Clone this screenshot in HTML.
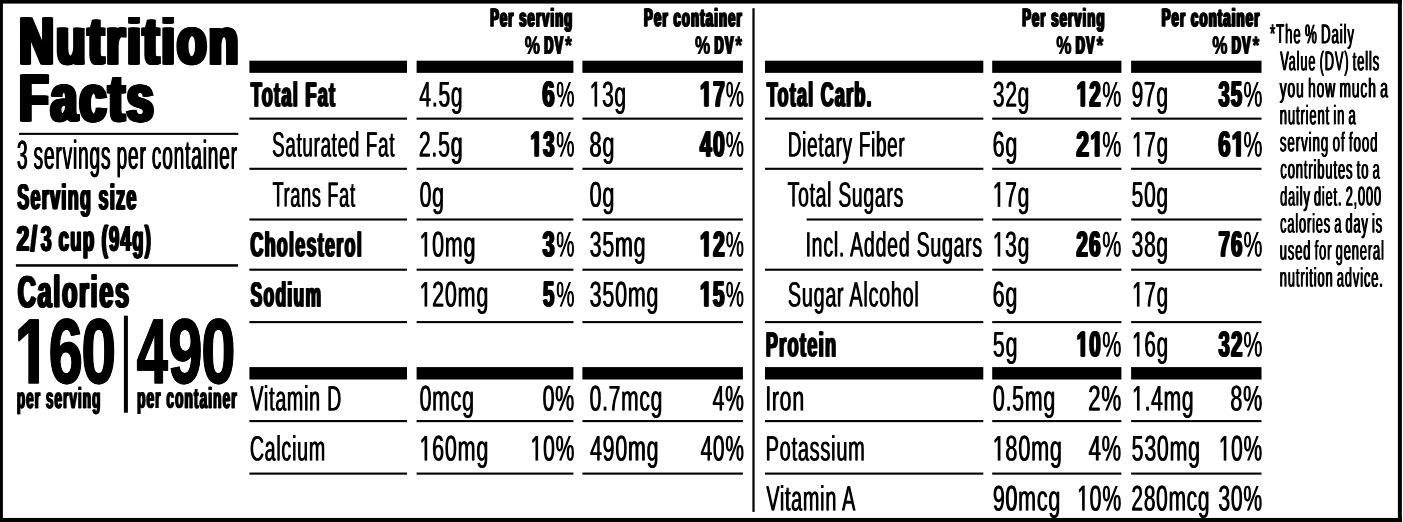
<!DOCTYPE html>
<html><head><meta charset="utf-8"><title>Nutrition Facts</title>
<style>
html,body{margin:0;padding:0;background:#fff;}
body{width:1403px;height:522px;overflow:hidden;}
svg{display:block;will-change:transform;}
text{font-family:"Liberation Sans",sans-serif;fill:#000;stroke-linejoin:miter;text-rendering:geometricPrecision;}
</style></head><body>
<svg width="1403" height="522" viewBox="0 0 1403 522">
<g fill="#000">
<rect x="0.00" y="0.00" width="1401.85" height="3.60"/>
<rect x="0.00" y="0.00" width="2.90" height="522.00"/>
<rect x="1397.90" y="0.00" width="3.95" height="522.00"/>
<rect x="0.00" y="517.95" width="1401.85" height="4.05"/>
<rect x="249.40" y="60.70" width="157.60" height="12.15"/>
<rect x="249.40" y="367.10" width="157.60" height="12.40"/>
<rect x="416.60" y="60.70" width="156.80" height="12.15"/>
<rect x="416.60" y="367.10" width="156.80" height="12.40"/>
<rect x="582.40" y="60.70" width="160.50" height="12.15"/>
<rect x="582.40" y="367.10" width="160.50" height="12.40"/>
<rect x="765.00" y="60.70" width="218.30" height="12.15"/>
<rect x="765.00" y="367.10" width="218.30" height="12.40"/>
<rect x="992.20" y="60.70" width="129.20" height="12.15"/>
<rect x="992.20" y="367.10" width="129.20" height="12.40"/>
<rect x="1131.10" y="60.70" width="130.40" height="12.15"/>
<rect x="1131.10" y="367.10" width="130.40" height="12.40"/>
<rect x="249.40" y="117.60" width="157.60" height="2.10"/>
<rect x="249.40" y="167.75" width="157.60" height="2.10"/>
<rect x="249.40" y="218.45" width="157.60" height="2.10"/>
<rect x="249.40" y="268.65" width="157.60" height="2.10"/>
<rect x="249.40" y="321.05" width="157.60" height="2.10"/>
<rect x="249.40" y="420.05" width="157.60" height="2.10"/>
<rect x="249.40" y="472.55" width="157.60" height="2.10"/>
<rect x="416.60" y="117.60" width="156.80" height="2.10"/>
<rect x="416.60" y="167.75" width="156.80" height="2.10"/>
<rect x="416.60" y="218.45" width="156.80" height="2.10"/>
<rect x="416.60" y="268.65" width="156.80" height="2.10"/>
<rect x="416.60" y="321.05" width="156.80" height="2.10"/>
<rect x="416.60" y="420.05" width="156.80" height="2.10"/>
<rect x="416.60" y="472.55" width="156.80" height="2.10"/>
<rect x="582.40" y="117.60" width="160.50" height="2.10"/>
<rect x="582.40" y="167.75" width="160.50" height="2.10"/>
<rect x="582.40" y="218.45" width="160.50" height="2.10"/>
<rect x="582.40" y="268.65" width="160.50" height="2.10"/>
<rect x="582.40" y="321.05" width="160.50" height="2.10"/>
<rect x="582.40" y="420.05" width="160.50" height="2.10"/>
<rect x="582.40" y="472.55" width="160.50" height="2.10"/>
<rect x="765.00" y="117.60" width="218.30" height="2.10"/>
<rect x="765.00" y="167.75" width="218.30" height="2.10"/>
<rect x="806.60" y="218.45" width="176.70" height="2.10"/>
<rect x="765.00" y="268.65" width="218.30" height="2.10"/>
<rect x="765.00" y="321.05" width="218.30" height="2.10"/>
<rect x="765.00" y="420.05" width="218.30" height="2.10"/>
<rect x="765.00" y="472.55" width="218.30" height="2.10"/>
<rect x="992.20" y="117.60" width="129.20" height="2.10"/>
<rect x="992.20" y="167.75" width="129.20" height="2.10"/>
<rect x="992.20" y="218.45" width="129.20" height="2.10"/>
<rect x="992.20" y="268.65" width="129.20" height="2.10"/>
<rect x="992.20" y="321.05" width="129.20" height="2.10"/>
<rect x="992.20" y="420.05" width="129.20" height="2.10"/>
<rect x="992.20" y="472.55" width="129.20" height="2.10"/>
<rect x="1131.10" y="117.60" width="130.40" height="2.10"/>
<rect x="1131.10" y="167.75" width="130.40" height="2.10"/>
<rect x="1131.10" y="218.45" width="130.40" height="2.10"/>
<rect x="1131.10" y="268.65" width="130.40" height="2.10"/>
<rect x="1131.10" y="321.05" width="130.40" height="2.10"/>
<rect x="1131.10" y="420.05" width="130.40" height="2.10"/>
<rect x="1131.10" y="472.55" width="130.40" height="2.10"/>
<rect x="752.40" y="8.20" width="2.20" height="503.70"/>
<rect x="19.10" y="132.80" width="219.20" height="2.10"/>
<rect x="15.90" y="264.20" width="222.10" height="2.50"/>
<rect x="123.90" y="315.70" width="4.00" height="97.00"/>
<text transform="translate(249.92,106.21) skewY(0.06) scale(0.5282,1.0000)" font-size="34.4" font-weight="700" stroke="#000" stroke-width="0.39" letter-spacing="2.382">Total Fat</text>
<text transform="translate(250.71,106.21) skewY(0.06) scale(0.5282,1.0000)" font-size="34.4" font-weight="700" stroke="#000" stroke-width="0.39" letter-spacing="2.382">Total Fat</text>
<text transform="translate(251.49,106.21) skewY(0.06) scale(0.5282,1.0000)" font-size="34.4" font-weight="700" stroke="#000" stroke-width="0.39" letter-spacing="2.382">Total Fat</text>
<text transform="translate(419.08,106.43) skewY(0.06) scale(0.5879,1.0000)" font-size="35.7" font-weight="400" letter-spacing="1.301">4.5g</text>
<text transform="translate(419.85,106.43) skewY(0.06) scale(0.5879,1.0000)" font-size="35.7" font-weight="400" letter-spacing="1.301">4.5g</text>
<text transform="translate(541.56,106.24) skewY(0.06) scale(0.6132,1.0000)" font-size="35.7" font-weight="700" stroke="#000" stroke-width="0.41">6</text>
<text transform="translate(542.10,106.24) skewY(0.06) scale(0.6132,1.0000)" font-size="35.7" font-weight="700" stroke="#000" stroke-width="0.41">6</text>
<text transform="translate(542.65,106.24) skewY(0.06) scale(0.6132,1.0000)" font-size="35.7" font-weight="700" stroke="#000" stroke-width="0.41">6</text>
<text transform="translate(543.19,106.24) skewY(0.06) scale(0.6132,1.0000)" font-size="35.7" font-weight="700" stroke="#000" stroke-width="0.41">6</text>
<text transform="translate(555.98,106.44) skewY(0.06) scale(0.5739,1.0000)" font-size="35.7" font-weight="400">%</text>
<text transform="translate(556.38,106.44) skewY(0.06) scale(0.5739,1.0000)" font-size="35.7" font-weight="400">%</text>
<path transform="translate(589.29,106.43) scale(0.01019,-0.01743)" d="M515 0V1237L197 1010V1180L530 1409H696V0Z"/>
<path transform="translate(590.06,106.43) scale(0.01019,-0.01743)" d="M515 0V1237L197 1010V1180L530 1409H696V0Z"/>
<text transform="translate(601.66,106.43) skewY(0.06) scale(0.5845,1.0000)" font-size="35.7" font-weight="400" letter-spacing="1.309">3g</text>
<text transform="translate(602.43,106.43) skewY(0.06) scale(0.5845,1.0000)" font-size="35.7" font-weight="400" letter-spacing="1.309">3g</text>
<path transform="translate(699.29,106.23) scale(0.01024,-0.01743)" d="M478 0V1170L140 959V1180L493 1409H759V0Z" stroke="#000" stroke-width="0.41" vector-effect="non-scaling-stroke"/>
<path transform="translate(699.83,106.23) scale(0.01024,-0.01743)" d="M478 0V1170L140 959V1180L493 1409H759V0Z" stroke="#000" stroke-width="0.41" vector-effect="non-scaling-stroke"/>
<path transform="translate(700.37,106.23) scale(0.01024,-0.01743)" d="M478 0V1170L140 959V1180L493 1409H759V0Z" stroke="#000" stroke-width="0.41" vector-effect="non-scaling-stroke"/>
<path transform="translate(700.92,106.23) scale(0.01024,-0.01743)" d="M478 0V1170L140 959V1180L493 1409H759V0Z" stroke="#000" stroke-width="0.41" vector-effect="non-scaling-stroke"/>
<text transform="translate(712.25,106.23) skewY(0.06) scale(0.5872,1.0000)" font-size="35.7" font-weight="700" stroke="#000" stroke-width="0.41">7</text>
<text transform="translate(712.80,106.23) skewY(0.06) scale(0.5872,1.0000)" font-size="35.7" font-weight="700" stroke="#000" stroke-width="0.41">7</text>
<text transform="translate(713.34,106.23) skewY(0.06) scale(0.5872,1.0000)" font-size="35.7" font-weight="700" stroke="#000" stroke-width="0.41">7</text>
<text transform="translate(713.88,106.23) skewY(0.06) scale(0.5872,1.0000)" font-size="35.7" font-weight="700" stroke="#000" stroke-width="0.41">7</text>
<text transform="translate(725.58,106.44) skewY(0.06) scale(0.5739,1.0000)" font-size="35.7" font-weight="400">%</text>
<text transform="translate(725.98,106.44) skewY(0.06) scale(0.5739,1.0000)" font-size="35.7" font-weight="400">%</text>
<text transform="translate(271.76,156.49) skewY(0.06) scale(0.5313,1.0000)" font-size="35.2" font-weight="400" letter-spacing="1.420">Saturated Fat</text>
<text transform="translate(272.51,156.49) skewY(0.06) scale(0.5313,1.0000)" font-size="35.2" font-weight="400" letter-spacing="1.420">Saturated Fat</text>
<text transform="translate(418.43,156.53) skewY(0.06) scale(0.5976,1.0000)" font-size="35.7" font-weight="400" letter-spacing="1.280">2.5g</text>
<text transform="translate(419.20,156.53) skewY(0.06) scale(0.5976,1.0000)" font-size="35.7" font-weight="400" letter-spacing="1.280">2.5g</text>
<path transform="translate(529.72,156.33) scale(0.00995,-0.01743)" d="M478 0V1170L140 959V1180L493 1409H759V0Z" stroke="#000" stroke-width="0.41" vector-effect="non-scaling-stroke"/>
<path transform="translate(530.27,156.33) scale(0.00995,-0.01743)" d="M478 0V1170L140 959V1180L493 1409H759V0Z" stroke="#000" stroke-width="0.41" vector-effect="non-scaling-stroke"/>
<path transform="translate(530.81,156.33) scale(0.00995,-0.01743)" d="M478 0V1170L140 959V1180L493 1409H759V0Z" stroke="#000" stroke-width="0.41" vector-effect="non-scaling-stroke"/>
<path transform="translate(531.36,156.33) scale(0.00995,-0.01743)" d="M478 0V1170L140 959V1180L493 1409H759V0Z" stroke="#000" stroke-width="0.41" vector-effect="non-scaling-stroke"/>
<text transform="translate(542.36,156.33) skewY(0.06) scale(0.5706,1.0000)" font-size="35.7" font-weight="700" stroke="#000" stroke-width="0.41">3</text>
<text transform="translate(542.90,156.33) skewY(0.06) scale(0.5706,1.0000)" font-size="35.7" font-weight="700" stroke="#000" stroke-width="0.41">3</text>
<text transform="translate(543.45,156.33) skewY(0.06) scale(0.5706,1.0000)" font-size="35.7" font-weight="700" stroke="#000" stroke-width="0.41">3</text>
<text transform="translate(543.99,156.33) skewY(0.06) scale(0.5706,1.0000)" font-size="35.7" font-weight="700" stroke="#000" stroke-width="0.41">3</text>
<text transform="translate(555.98,156.54) skewY(0.06) scale(0.5739,1.0000)" font-size="35.7" font-weight="400">%</text>
<text transform="translate(556.38,156.54) skewY(0.06) scale(0.5739,1.0000)" font-size="35.7" font-weight="400">%</text>
<text transform="translate(589.12,156.54) skewY(0.06) scale(0.6070,1.0000)" font-size="35.7" font-weight="400" letter-spacing="1.260">8g</text>
<text transform="translate(589.89,156.54) skewY(0.06) scale(0.6070,1.0000)" font-size="35.7" font-weight="400" letter-spacing="1.260">8g</text>
<text transform="translate(699.10,156.33) skewY(0.06) scale(0.5926,1.0000)" font-size="35.7" font-weight="700" stroke="#000" stroke-width="0.41" letter-spacing="2.203">40</text>
<text transform="translate(699.65,156.33) skewY(0.06) scale(0.5926,1.0000)" font-size="35.7" font-weight="700" stroke="#000" stroke-width="0.41" letter-spacing="2.203">40</text>
<text transform="translate(700.19,156.33) skewY(0.06) scale(0.5926,1.0000)" font-size="35.7" font-weight="700" stroke="#000" stroke-width="0.41" letter-spacing="2.203">40</text>
<text transform="translate(700.74,156.33) skewY(0.06) scale(0.5926,1.0000)" font-size="35.7" font-weight="700" stroke="#000" stroke-width="0.41" letter-spacing="2.203">40</text>
<text transform="translate(725.58,156.54) skewY(0.06) scale(0.5739,1.0000)" font-size="35.7" font-weight="400">%</text>
<text transform="translate(725.98,156.54) skewY(0.06) scale(0.5739,1.0000)" font-size="35.7" font-weight="400">%</text>
<text transform="translate(272.24,206.61) skewY(0.06) scale(0.5116,1.0000)" font-size="35.2" font-weight="400" letter-spacing="1.474">Trans Fat</text>
<text transform="translate(272.99,206.61) skewY(0.06) scale(0.5116,1.0000)" font-size="35.2" font-weight="400" letter-spacing="1.474">Trans Fat</text>
<text transform="translate(419.15,206.64) skewY(0.06) scale(0.5956,1.0000)" font-size="35.7" font-weight="400" letter-spacing="1.284">0g</text>
<text transform="translate(419.91,206.64) skewY(0.06) scale(0.5956,1.0000)" font-size="35.7" font-weight="400" letter-spacing="1.284">0g</text>
<text transform="translate(589.24,206.64) skewY(0.06) scale(0.6040,1.0000)" font-size="35.7" font-weight="400" letter-spacing="1.267">0g</text>
<text transform="translate(590.00,206.64) skewY(0.06) scale(0.6040,1.0000)" font-size="35.7" font-weight="400" letter-spacing="1.267">0g</text>
<text transform="translate(249.58,256.30) skewY(0.06) scale(0.5218,1.0000)" font-size="34.4" font-weight="700" stroke="#000" stroke-width="0.39" letter-spacing="2.411">Cholesterol</text>
<text transform="translate(250.37,256.30) skewY(0.06) scale(0.5218,1.0000)" font-size="34.4" font-weight="700" stroke="#000" stroke-width="0.39" letter-spacing="2.411">Cholesterol</text>
<text transform="translate(251.16,256.30) skewY(0.06) scale(0.5218,1.0000)" font-size="34.4" font-weight="700" stroke="#000" stroke-width="0.39" letter-spacing="2.411">Cholesterol</text>
<path transform="translate(419.14,256.52) scale(0.01046,-0.01743)" d="M515 0V1237L197 1010V1180L530 1409H696V0Z"/>
<path transform="translate(419.90,256.52) scale(0.01046,-0.01743)" d="M515 0V1237L197 1010V1180L530 1409H696V0Z"/>
<text transform="translate(431.82,256.52) skewY(0.06) scale(0.6002,1.0000)" font-size="35.7" font-weight="400" letter-spacing="1.275">0mg</text>
<text transform="translate(432.59,256.52) skewY(0.06) scale(0.6002,1.0000)" font-size="35.7" font-weight="400" letter-spacing="1.275">0mg</text>
<text transform="translate(541.79,256.34) skewY(0.06) scale(0.6011,1.0000)" font-size="35.7" font-weight="700" stroke="#000" stroke-width="0.41">3</text>
<text transform="translate(542.33,256.34) skewY(0.06) scale(0.6011,1.0000)" font-size="35.7" font-weight="700" stroke="#000" stroke-width="0.41">3</text>
<text transform="translate(542.87,256.34) skewY(0.06) scale(0.6011,1.0000)" font-size="35.7" font-weight="700" stroke="#000" stroke-width="0.41">3</text>
<text transform="translate(543.42,256.34) skewY(0.06) scale(0.6011,1.0000)" font-size="35.7" font-weight="700" stroke="#000" stroke-width="0.41">3</text>
<text transform="translate(555.98,256.54) skewY(0.06) scale(0.5739,1.0000)" font-size="35.7" font-weight="400">%</text>
<text transform="translate(556.38,256.54) skewY(0.06) scale(0.5739,1.0000)" font-size="35.7" font-weight="400">%</text>
<text transform="translate(589.24,256.52) skewY(0.06) scale(0.6005,1.0000)" font-size="35.7" font-weight="400" letter-spacing="1.274">35mg</text>
<text transform="translate(590.01,256.52) skewY(0.06) scale(0.6005,1.0000)" font-size="35.7" font-weight="400" letter-spacing="1.274">35mg</text>
<path transform="translate(699.29,256.33) scale(0.01024,-0.01743)" d="M478 0V1170L140 959V1180L493 1409H759V0Z" stroke="#000" stroke-width="0.41" vector-effect="non-scaling-stroke"/>
<path transform="translate(699.83,256.33) scale(0.01024,-0.01743)" d="M478 0V1170L140 959V1180L493 1409H759V0Z" stroke="#000" stroke-width="0.41" vector-effect="non-scaling-stroke"/>
<path transform="translate(700.37,256.33) scale(0.01024,-0.01743)" d="M478 0V1170L140 959V1180L493 1409H759V0Z" stroke="#000" stroke-width="0.41" vector-effect="non-scaling-stroke"/>
<path transform="translate(700.92,256.33) scale(0.01024,-0.01743)" d="M478 0V1170L140 959V1180L493 1409H759V0Z" stroke="#000" stroke-width="0.41" vector-effect="non-scaling-stroke"/>
<text transform="translate(712.25,256.33) skewY(0.06) scale(0.5872,1.0000)" font-size="35.7" font-weight="700" stroke="#000" stroke-width="0.41">2</text>
<text transform="translate(712.80,256.33) skewY(0.06) scale(0.5872,1.0000)" font-size="35.7" font-weight="700" stroke="#000" stroke-width="0.41">2</text>
<text transform="translate(713.34,256.33) skewY(0.06) scale(0.5872,1.0000)" font-size="35.7" font-weight="700" stroke="#000" stroke-width="0.41">2</text>
<text transform="translate(713.88,256.33) skewY(0.06) scale(0.5872,1.0000)" font-size="35.7" font-weight="700" stroke="#000" stroke-width="0.41">2</text>
<text transform="translate(725.58,256.54) skewY(0.06) scale(0.5739,1.0000)" font-size="35.7" font-weight="400">%</text>
<text transform="translate(725.98,256.54) skewY(0.06) scale(0.5739,1.0000)" font-size="35.7" font-weight="400">%</text>
<text transform="translate(249.77,306.32) skewY(0.06) scale(0.5093,1.0000)" font-size="34.4" font-weight="700" stroke="#000" stroke-width="0.39" letter-spacing="2.470">Sodium</text>
<text transform="translate(250.56,306.32) skewY(0.06) scale(0.5093,1.0000)" font-size="34.4" font-weight="700" stroke="#000" stroke-width="0.39" letter-spacing="2.470">Sodium</text>
<text transform="translate(251.35,306.32) skewY(0.06) scale(0.5093,1.0000)" font-size="34.4" font-weight="700" stroke="#000" stroke-width="0.39" letter-spacing="2.470">Sodium</text>
<path transform="translate(419.13,306.52) scale(0.01050,-0.01743)" d="M515 0V1237L197 1010V1180L530 1409H696V0Z"/>
<path transform="translate(419.90,306.52) scale(0.01050,-0.01743)" d="M515 0V1237L197 1010V1180L530 1409H696V0Z"/>
<text transform="translate(431.86,306.52) skewY(0.06) scale(0.6026,1.0000)" font-size="35.7" font-weight="400" letter-spacing="1.270">20mg</text>
<text transform="translate(432.62,306.52) skewY(0.06) scale(0.6026,1.0000)" font-size="35.7" font-weight="400" letter-spacing="1.270">20mg</text>
<text transform="translate(542.21,306.34) skewY(0.06) scale(0.5679,1.0000)" font-size="35.7" font-weight="700" stroke="#000" stroke-width="0.41">5</text>
<text transform="translate(542.75,306.34) skewY(0.06) scale(0.5679,1.0000)" font-size="35.7" font-weight="700" stroke="#000" stroke-width="0.41">5</text>
<text transform="translate(543.30,306.34) skewY(0.06) scale(0.5679,1.0000)" font-size="35.7" font-weight="700" stroke="#000" stroke-width="0.41">5</text>
<text transform="translate(543.84,306.34) skewY(0.06) scale(0.5679,1.0000)" font-size="35.7" font-weight="700" stroke="#000" stroke-width="0.41">5</text>
<text transform="translate(555.98,306.54) skewY(0.06) scale(0.5739,1.0000)" font-size="35.7" font-weight="400">%</text>
<text transform="translate(556.38,306.54) skewY(0.06) scale(0.5739,1.0000)" font-size="35.7" font-weight="400">%</text>
<text transform="translate(589.24,306.51) skewY(0.06) scale(0.6027,1.0000)" font-size="35.7" font-weight="400" letter-spacing="1.269">350mg</text>
<text transform="translate(590.00,306.51) skewY(0.06) scale(0.6027,1.0000)" font-size="35.7" font-weight="400" letter-spacing="1.269">350mg</text>
<path transform="translate(699.31,306.33) scale(0.01009,-0.01743)" d="M478 0V1170L140 959V1180L493 1409H759V0Z" stroke="#000" stroke-width="0.41" vector-effect="non-scaling-stroke"/>
<path transform="translate(699.85,306.33) scale(0.01009,-0.01743)" d="M478 0V1170L140 959V1180L493 1409H759V0Z" stroke="#000" stroke-width="0.41" vector-effect="non-scaling-stroke"/>
<path transform="translate(700.39,306.33) scale(0.01009,-0.01743)" d="M478 0V1170L140 959V1180L493 1409H759V0Z" stroke="#000" stroke-width="0.41" vector-effect="non-scaling-stroke"/>
<path transform="translate(700.94,306.33) scale(0.01009,-0.01743)" d="M478 0V1170L140 959V1180L493 1409H759V0Z" stroke="#000" stroke-width="0.41" vector-effect="non-scaling-stroke"/>
<text transform="translate(712.10,306.33) skewY(0.06) scale(0.5787,1.0000)" font-size="35.7" font-weight="700" stroke="#000" stroke-width="0.41">5</text>
<text transform="translate(712.64,306.33) skewY(0.06) scale(0.5787,1.0000)" font-size="35.7" font-weight="700" stroke="#000" stroke-width="0.41">5</text>
<text transform="translate(713.19,306.33) skewY(0.06) scale(0.5787,1.0000)" font-size="35.7" font-weight="700" stroke="#000" stroke-width="0.41">5</text>
<text transform="translate(713.73,306.33) skewY(0.06) scale(0.5787,1.0000)" font-size="35.7" font-weight="700" stroke="#000" stroke-width="0.41">5</text>
<text transform="translate(725.58,306.54) skewY(0.06) scale(0.5739,1.0000)" font-size="35.7" font-weight="400">%</text>
<text transform="translate(725.98,306.54) skewY(0.06) scale(0.5739,1.0000)" font-size="35.7" font-weight="400">%</text>
<text transform="translate(250.10,410.45) skewY(0.06) scale(0.5576,1.0000)" font-size="35.2" font-weight="400" letter-spacing="1.353">Vitamin D</text>
<text transform="translate(250.86,410.45) skewY(0.06) scale(0.5576,1.0000)" font-size="35.2" font-weight="400" letter-spacing="1.353">Vitamin D</text>
<text transform="translate(419.15,410.47) skewY(0.06) scale(0.5966,1.0000)" font-size="35.7" font-weight="400" letter-spacing="1.282">0mcg</text>
<text transform="translate(419.91,410.47) skewY(0.06) scale(0.5966,1.0000)" font-size="35.7" font-weight="400" letter-spacing="1.282">0mcg</text>
<text transform="translate(542.14,410.48) skewY(0.06) scale(0.6005,1.0000)" font-size="35.7" font-weight="400" letter-spacing="1.274">0%</text>
<text transform="translate(542.91,410.48) skewY(0.06) scale(0.6005,1.0000)" font-size="35.7" font-weight="400" letter-spacing="1.274">0%</text>
<text transform="translate(589.26,410.46) skewY(0.06) scale(0.5885,1.0000)" font-size="35.7" font-weight="400" letter-spacing="1.300">0.7mcg</text>
<text transform="translate(590.02,410.46) skewY(0.06) scale(0.5885,1.0000)" font-size="35.7" font-weight="400" letter-spacing="1.300">0.7mcg</text>
<text transform="translate(712.18,410.48) skewY(0.06) scale(0.5919,1.0000)" font-size="35.7" font-weight="400" letter-spacing="1.293">4%</text>
<text transform="translate(712.94,410.48) skewY(0.06) scale(0.5919,1.0000)" font-size="35.7" font-weight="400" letter-spacing="1.293">4%</text>
<text transform="translate(249.42,460.51) skewY(0.06) scale(0.5570,1.0000)" font-size="35.2" font-weight="400" letter-spacing="1.354">Calcium</text>
<text transform="translate(250.17,460.51) skewY(0.06) scale(0.5570,1.0000)" font-size="35.2" font-weight="400" letter-spacing="1.354">Calcium</text>
<path transform="translate(419.13,460.52) scale(0.01050,-0.01743)" d="M515 0V1237L197 1010V1180L530 1409H696V0Z"/>
<path transform="translate(419.90,460.52) scale(0.01050,-0.01743)" d="M515 0V1237L197 1010V1180L530 1409H696V0Z"/>
<text transform="translate(431.86,460.52) skewY(0.06) scale(0.6026,1.0000)" font-size="35.7" font-weight="400" letter-spacing="1.270">60mg</text>
<text transform="translate(432.62,460.52) skewY(0.06) scale(0.6026,1.0000)" font-size="35.7" font-weight="400" letter-spacing="1.270">60mg</text>
<path transform="translate(530.17,460.53) scale(0.01029,-0.01743)" d="M515 0V1237L197 1010V1180L530 1409H696V0Z"/>
<path transform="translate(530.94,460.53) scale(0.01029,-0.01743)" d="M515 0V1237L197 1010V1180L530 1409H696V0Z"/>
<text transform="translate(542.66,460.53) skewY(0.06) scale(0.5903,1.0000)" font-size="35.7" font-weight="400" letter-spacing="1.296">0%</text>
<text transform="translate(543.42,460.53) skewY(0.06) scale(0.5903,1.0000)" font-size="35.7" font-weight="400" letter-spacing="1.296">0%</text>
<text transform="translate(589.67,460.51) skewY(0.06) scale(0.5987,1.0000)" font-size="35.7" font-weight="400" letter-spacing="1.278">490mg</text>
<text transform="translate(590.44,460.51) skewY(0.06) scale(0.5987,1.0000)" font-size="35.7" font-weight="400" letter-spacing="1.278">490mg</text>
<text transform="translate(700.18,460.53) skewY(0.06) scale(0.5848,1.0000)" font-size="35.7" font-weight="400" letter-spacing="1.308">40%</text>
<text transform="translate(700.95,460.53) skewY(0.06) scale(0.5848,1.0000)" font-size="35.7" font-weight="400" letter-spacing="1.308">40%</text>
<text transform="translate(765.92,106.20) skewY(0.06) scale(0.5209,1.0000)" font-size="34.4" font-weight="700" stroke="#000" stroke-width="0.39" letter-spacing="2.415">Total Carb.</text>
<text transform="translate(766.71,106.20) skewY(0.06) scale(0.5209,1.0000)" font-size="34.4" font-weight="700" stroke="#000" stroke-width="0.39" letter-spacing="2.415">Total Carb.</text>
<text transform="translate(767.50,106.20) skewY(0.06) scale(0.5209,1.0000)" font-size="34.4" font-weight="700" stroke="#000" stroke-width="0.39" letter-spacing="2.415">Total Carb.</text>
<text transform="translate(992.56,106.43) skewY(0.06) scale(0.5855,1.0000)" font-size="35.7" font-weight="400" letter-spacing="1.307">32g</text>
<text transform="translate(993.33,106.43) skewY(0.06) scale(0.5855,1.0000)" font-size="35.7" font-weight="400" letter-spacing="1.307">32g</text>
<path transform="translate(1075.93,106.23) scale(0.00990,-0.01743)" d="M478 0V1170L140 959V1180L493 1409H759V0Z" stroke="#000" stroke-width="0.41" vector-effect="non-scaling-stroke"/>
<path transform="translate(1076.47,106.23) scale(0.00990,-0.01743)" d="M478 0V1170L140 959V1180L493 1409H759V0Z" stroke="#000" stroke-width="0.41" vector-effect="non-scaling-stroke"/>
<path transform="translate(1077.02,106.23) scale(0.00990,-0.01743)" d="M478 0V1170L140 959V1180L493 1409H759V0Z" stroke="#000" stroke-width="0.41" vector-effect="non-scaling-stroke"/>
<path transform="translate(1077.56,106.23) scale(0.00990,-0.01743)" d="M478 0V1170L140 959V1180L493 1409H759V0Z" stroke="#000" stroke-width="0.41" vector-effect="non-scaling-stroke"/>
<text transform="translate(1088.51,106.23) skewY(0.06) scale(0.5679,1.0000)" font-size="35.7" font-weight="700" stroke="#000" stroke-width="0.41">2</text>
<text transform="translate(1089.06,106.23) skewY(0.06) scale(0.5679,1.0000)" font-size="35.7" font-weight="700" stroke="#000" stroke-width="0.41">2</text>
<text transform="translate(1089.60,106.23) skewY(0.06) scale(0.5679,1.0000)" font-size="35.7" font-weight="700" stroke="#000" stroke-width="0.41">2</text>
<text transform="translate(1090.14,106.23) skewY(0.06) scale(0.5679,1.0000)" font-size="35.7" font-weight="700" stroke="#000" stroke-width="0.41">2</text>
<text transform="translate(1102.05,106.44) skewY(0.06) scale(0.6012,1.0000)" font-size="35.7" font-weight="400">%</text>
<text transform="translate(1102.45,106.44) skewY(0.06) scale(0.6012,1.0000)" font-size="35.7" font-weight="400">%</text>
<text transform="translate(1131.16,106.43) skewY(0.06) scale(0.5873,1.0000)" font-size="35.7" font-weight="400" letter-spacing="1.302">97g</text>
<text transform="translate(1131.92,106.43) skewY(0.06) scale(0.5873,1.0000)" font-size="35.7" font-weight="400" letter-spacing="1.302">97g</text>
<text transform="translate(1217.72,106.23) skewY(0.06) scale(0.5585,1.0000)" font-size="35.7" font-weight="700" stroke="#000" stroke-width="0.41" letter-spacing="2.338">35</text>
<text transform="translate(1218.26,106.23) skewY(0.06) scale(0.5585,1.0000)" font-size="35.7" font-weight="700" stroke="#000" stroke-width="0.41" letter-spacing="2.338">35</text>
<text transform="translate(1218.80,106.23) skewY(0.06) scale(0.5585,1.0000)" font-size="35.7" font-weight="700" stroke="#000" stroke-width="0.41" letter-spacing="2.338">35</text>
<text transform="translate(1219.35,106.23) skewY(0.06) scale(0.5585,1.0000)" font-size="35.7" font-weight="700" stroke="#000" stroke-width="0.41" letter-spacing="2.338">35</text>
<text transform="translate(1243.26,106.44) skewY(0.06) scale(0.5944,1.0000)" font-size="35.7" font-weight="400">%</text>
<text transform="translate(1243.66,106.44) skewY(0.06) scale(0.5944,1.0000)" font-size="35.7" font-weight="400">%</text>
<text transform="translate(787.49,156.49) skewY(0.06) scale(0.5353,1.0000)" font-size="35.2" font-weight="400" letter-spacing="1.409">Dietary Fiber</text>
<text transform="translate(788.25,156.49) skewY(0.06) scale(0.5353,1.0000)" font-size="35.2" font-weight="400" letter-spacing="1.409">Dietary Fiber</text>
<text transform="translate(992.33,156.54) skewY(0.06) scale(0.6016,1.0000)" font-size="35.7" font-weight="400" letter-spacing="1.272">6g</text>
<text transform="translate(993.09,156.54) skewY(0.06) scale(0.6016,1.0000)" font-size="35.7" font-weight="400" letter-spacing="1.272">6g</text>
<text transform="translate(1075.53,156.33) skewY(0.06) scale(0.6377,1.0000)" font-size="35.7" font-weight="700" stroke="#000" stroke-width="0.41">2</text>
<text transform="translate(1076.08,156.33) skewY(0.06) scale(0.6377,1.0000)" font-size="35.7" font-weight="700" stroke="#000" stroke-width="0.41">2</text>
<text transform="translate(1076.62,156.33) skewY(0.06) scale(0.6377,1.0000)" font-size="35.7" font-weight="700" stroke="#000" stroke-width="0.41">2</text>
<text transform="translate(1077.17,156.33) skewY(0.06) scale(0.6377,1.0000)" font-size="35.7" font-weight="700" stroke="#000" stroke-width="0.41">2</text>
<path transform="translate(1089.50,156.33) scale(0.01112,-0.01743)" d="M478 0V1170L140 959V1180L493 1409H759V0Z" stroke="#000" stroke-width="0.41" vector-effect="non-scaling-stroke"/>
<path transform="translate(1090.04,156.33) scale(0.01112,-0.01743)" d="M478 0V1170L140 959V1180L493 1409H759V0Z" stroke="#000" stroke-width="0.41" vector-effect="non-scaling-stroke"/>
<path transform="translate(1090.59,156.33) scale(0.01112,-0.01743)" d="M478 0V1170L140 959V1180L493 1409H759V0Z" stroke="#000" stroke-width="0.41" vector-effect="non-scaling-stroke"/>
<path transform="translate(1091.13,156.33) scale(0.01112,-0.01743)" d="M478 0V1170L140 959V1180L493 1409H759V0Z" stroke="#000" stroke-width="0.41" vector-effect="non-scaling-stroke"/>
<text transform="translate(1102.05,156.54) skewY(0.06) scale(0.6012,1.0000)" font-size="35.7" font-weight="400">%</text>
<text transform="translate(1102.45,156.54) skewY(0.06) scale(0.6012,1.0000)" font-size="35.7" font-weight="400">%</text>
<path transform="translate(1131.72,156.53) scale(0.01006,-0.01743)" d="M515 0V1237L197 1010V1180L530 1409H696V0Z"/>
<path transform="translate(1132.48,156.53) scale(0.01006,-0.01743)" d="M515 0V1237L197 1010V1180L530 1409H696V0Z"/>
<text transform="translate(1143.94,156.53) skewY(0.06) scale(0.5771,1.0000)" font-size="35.7" font-weight="400" letter-spacing="1.326">7g</text>
<text transform="translate(1144.71,156.53) skewY(0.06) scale(0.5771,1.0000)" font-size="35.7" font-weight="400" letter-spacing="1.326">7g</text>
<text transform="translate(1217.45,156.33) skewY(0.06) scale(0.6191,1.0000)" font-size="35.7" font-weight="700" stroke="#000" stroke-width="0.41">6</text>
<text transform="translate(1218.00,156.33) skewY(0.06) scale(0.6191,1.0000)" font-size="35.7" font-weight="700" stroke="#000" stroke-width="0.41">6</text>
<text transform="translate(1218.54,156.33) skewY(0.06) scale(0.6191,1.0000)" font-size="35.7" font-weight="700" stroke="#000" stroke-width="0.41">6</text>
<text transform="translate(1219.08,156.33) skewY(0.06) scale(0.6191,1.0000)" font-size="35.7" font-weight="700" stroke="#000" stroke-width="0.41">6</text>
<path transform="translate(1231.05,156.33) scale(0.01079,-0.01743)" d="M478 0V1170L140 959V1180L493 1409H759V0Z" stroke="#000" stroke-width="0.41" vector-effect="non-scaling-stroke"/>
<path transform="translate(1231.59,156.33) scale(0.01079,-0.01743)" d="M478 0V1170L140 959V1180L493 1409H759V0Z" stroke="#000" stroke-width="0.41" vector-effect="non-scaling-stroke"/>
<path transform="translate(1232.14,156.33) scale(0.01079,-0.01743)" d="M478 0V1170L140 959V1180L493 1409H759V0Z" stroke="#000" stroke-width="0.41" vector-effect="non-scaling-stroke"/>
<path transform="translate(1232.68,156.33) scale(0.01079,-0.01743)" d="M478 0V1170L140 959V1180L493 1409H759V0Z" stroke="#000" stroke-width="0.41" vector-effect="non-scaling-stroke"/>
<text transform="translate(1243.26,156.54) skewY(0.06) scale(0.5944,1.0000)" font-size="35.7" font-weight="400">%</text>
<text transform="translate(1243.66,156.54) skewY(0.06) scale(0.5944,1.0000)" font-size="35.7" font-weight="400">%</text>
<text transform="translate(787.21,206.59) skewY(0.06) scale(0.5493,1.0000)" font-size="35.2" font-weight="400" letter-spacing="1.373">Total Sugars</text>
<text transform="translate(787.97,206.59) skewY(0.06) scale(0.5493,1.0000)" font-size="35.2" font-weight="400" letter-spacing="1.373">Total Sugars</text>
<path transform="translate(992.38,206.63) scale(0.01025,-0.01743)" d="M515 0V1237L197 1010V1180L530 1409H696V0Z"/>
<path transform="translate(993.14,206.63) scale(0.01025,-0.01743)" d="M515 0V1237L197 1010V1180L530 1409H696V0Z"/>
<text transform="translate(1004.82,206.63) skewY(0.06) scale(0.5883,1.0000)" font-size="35.7" font-weight="400" letter-spacing="1.300">7g</text>
<text transform="translate(1005.59,206.63) skewY(0.06) scale(0.5883,1.0000)" font-size="35.7" font-weight="400" letter-spacing="1.300">7g</text>
<text transform="translate(1131.26,206.63) skewY(0.06) scale(0.5855,1.0000)" font-size="35.7" font-weight="400" letter-spacing="1.307">50g</text>
<text transform="translate(1132.03,206.63) skewY(0.06) scale(0.5855,1.0000)" font-size="35.7" font-weight="400" letter-spacing="1.307">50g</text>
<text transform="translate(805.14,256.46) skewY(0.06) scale(0.5549,1.0000)" font-size="35.2" font-weight="400" letter-spacing="1.359">Incl. Added Sugars</text>
<text transform="translate(805.90,256.46) skewY(0.06) scale(0.5549,1.0000)" font-size="35.2" font-weight="400" letter-spacing="1.359">Incl. Added Sugars</text>
<path transform="translate(992.38,256.53) scale(0.01025,-0.01743)" d="M515 0V1237L197 1010V1180L530 1409H696V0Z"/>
<path transform="translate(993.14,256.53) scale(0.01025,-0.01743)" d="M515 0V1237L197 1010V1180L530 1409H696V0Z"/>
<text transform="translate(1004.82,256.53) skewY(0.06) scale(0.5883,1.0000)" font-size="35.7" font-weight="400" letter-spacing="1.300">3g</text>
<text transform="translate(1005.59,256.53) skewY(0.06) scale(0.5883,1.0000)" font-size="35.7" font-weight="400" letter-spacing="1.300">3g</text>
<text transform="translate(1075.60,256.33) skewY(0.06) scale(0.5744,1.0000)" font-size="35.7" font-weight="700" stroke="#000" stroke-width="0.41" letter-spacing="2.273">26</text>
<text transform="translate(1076.14,256.33) skewY(0.06) scale(0.5744,1.0000)" font-size="35.7" font-weight="700" stroke="#000" stroke-width="0.41" letter-spacing="2.273">26</text>
<text transform="translate(1076.69,256.33) skewY(0.06) scale(0.5744,1.0000)" font-size="35.7" font-weight="700" stroke="#000" stroke-width="0.41" letter-spacing="2.273">26</text>
<text transform="translate(1077.23,256.33) skewY(0.06) scale(0.5744,1.0000)" font-size="35.7" font-weight="700" stroke="#000" stroke-width="0.41" letter-spacing="2.273">26</text>
<text transform="translate(1102.05,256.54) skewY(0.06) scale(0.6012,1.0000)" font-size="35.7" font-weight="400">%</text>
<text transform="translate(1102.45,256.54) skewY(0.06) scale(0.6012,1.0000)" font-size="35.7" font-weight="400">%</text>
<text transform="translate(1131.26,256.53) skewY(0.06) scale(0.5855,1.0000)" font-size="35.7" font-weight="400" letter-spacing="1.307">38g</text>
<text transform="translate(1132.03,256.53) skewY(0.06) scale(0.5855,1.0000)" font-size="35.7" font-weight="400" letter-spacing="1.307">38g</text>
<text transform="translate(1217.81,256.33) skewY(0.06) scale(0.5611,1.0000)" font-size="35.7" font-weight="700" stroke="#000" stroke-width="0.41" letter-spacing="2.327">76</text>
<text transform="translate(1218.36,256.33) skewY(0.06) scale(0.5611,1.0000)" font-size="35.7" font-weight="700" stroke="#000" stroke-width="0.41" letter-spacing="2.327">76</text>
<text transform="translate(1218.90,256.33) skewY(0.06) scale(0.5611,1.0000)" font-size="35.7" font-weight="700" stroke="#000" stroke-width="0.41" letter-spacing="2.327">76</text>
<text transform="translate(1219.45,256.33) skewY(0.06) scale(0.5611,1.0000)" font-size="35.7" font-weight="700" stroke="#000" stroke-width="0.41" letter-spacing="2.327">76</text>
<text transform="translate(1243.26,256.54) skewY(0.06) scale(0.5944,1.0000)" font-size="35.7" font-weight="400">%</text>
<text transform="translate(1243.66,256.54) skewY(0.06) scale(0.5944,1.0000)" font-size="35.7" font-weight="400">%</text>
<text transform="translate(787.51,306.48) skewY(0.06) scale(0.5607,1.0000)" font-size="35.2" font-weight="400" letter-spacing="1.345">Sugar Alcohol</text>
<text transform="translate(788.27,306.48) skewY(0.06) scale(0.5607,1.0000)" font-size="35.2" font-weight="400" letter-spacing="1.345">Sugar Alcohol</text>
<text transform="translate(992.33,306.54) skewY(0.06) scale(0.6016,1.0000)" font-size="35.7" font-weight="400" letter-spacing="1.272">6g</text>
<text transform="translate(993.09,306.54) skewY(0.06) scale(0.6016,1.0000)" font-size="35.7" font-weight="400" letter-spacing="1.272">6g</text>
<path transform="translate(1131.72,306.53) scale(0.01006,-0.01743)" d="M515 0V1237L197 1010V1180L530 1409H696V0Z"/>
<path transform="translate(1132.48,306.53) scale(0.01006,-0.01743)" d="M515 0V1237L197 1010V1180L530 1409H696V0Z"/>
<text transform="translate(1143.94,306.53) skewY(0.06) scale(0.5771,1.0000)" font-size="35.7" font-weight="400" letter-spacing="1.326">7g</text>
<text transform="translate(1144.71,306.53) skewY(0.06) scale(0.5771,1.0000)" font-size="35.7" font-weight="400" letter-spacing="1.326">7g</text>
<text transform="translate(764.92,356.32) skewY(0.06) scale(0.5304,1.0000)" font-size="34.4" font-weight="700" stroke="#000" stroke-width="0.39" letter-spacing="2.372">Protein</text>
<text transform="translate(765.70,356.32) skewY(0.06) scale(0.5304,1.0000)" font-size="34.4" font-weight="700" stroke="#000" stroke-width="0.39" letter-spacing="2.372">Protein</text>
<text transform="translate(766.49,356.32) skewY(0.06) scale(0.5304,1.0000)" font-size="34.4" font-weight="700" stroke="#000" stroke-width="0.39" letter-spacing="2.372">Protein</text>
<text transform="translate(992.55,356.54) skewY(0.06) scale(0.5956,1.0000)" font-size="35.7" font-weight="400" letter-spacing="1.284">5g</text>
<text transform="translate(993.31,356.54) skewY(0.06) scale(0.5956,1.0000)" font-size="35.7" font-weight="400" letter-spacing="1.284">5g</text>
<path transform="translate(1075.93,356.33) scale(0.00990,-0.01743)" d="M478 0V1170L140 959V1180L493 1409H759V0Z" stroke="#000" stroke-width="0.41" vector-effect="non-scaling-stroke"/>
<path transform="translate(1076.47,356.33) scale(0.00990,-0.01743)" d="M478 0V1170L140 959V1180L493 1409H759V0Z" stroke="#000" stroke-width="0.41" vector-effect="non-scaling-stroke"/>
<path transform="translate(1077.02,356.33) scale(0.00990,-0.01743)" d="M478 0V1170L140 959V1180L493 1409H759V0Z" stroke="#000" stroke-width="0.41" vector-effect="non-scaling-stroke"/>
<path transform="translate(1077.56,356.33) scale(0.00990,-0.01743)" d="M478 0V1170L140 959V1180L493 1409H759V0Z" stroke="#000" stroke-width="0.41" vector-effect="non-scaling-stroke"/>
<text transform="translate(1088.51,356.33) skewY(0.06) scale(0.5679,1.0000)" font-size="35.7" font-weight="700" stroke="#000" stroke-width="0.41">0</text>
<text transform="translate(1089.06,356.33) skewY(0.06) scale(0.5679,1.0000)" font-size="35.7" font-weight="700" stroke="#000" stroke-width="0.41">0</text>
<text transform="translate(1089.60,356.33) skewY(0.06) scale(0.5679,1.0000)" font-size="35.7" font-weight="700" stroke="#000" stroke-width="0.41">0</text>
<text transform="translate(1090.14,356.33) skewY(0.06) scale(0.5679,1.0000)" font-size="35.7" font-weight="700" stroke="#000" stroke-width="0.41">0</text>
<text transform="translate(1102.05,356.54) skewY(0.06) scale(0.6012,1.0000)" font-size="35.7" font-weight="400">%</text>
<text transform="translate(1102.45,356.54) skewY(0.06) scale(0.6012,1.0000)" font-size="35.7" font-weight="400">%</text>
<path transform="translate(1131.72,356.53) scale(0.01006,-0.01743)" d="M515 0V1237L197 1010V1180L530 1409H696V0Z"/>
<path transform="translate(1132.48,356.53) scale(0.01006,-0.01743)" d="M515 0V1237L197 1010V1180L530 1409H696V0Z"/>
<text transform="translate(1143.94,356.53) skewY(0.06) scale(0.5771,1.0000)" font-size="35.7" font-weight="400" letter-spacing="1.326">6g</text>
<text transform="translate(1144.71,356.53) skewY(0.06) scale(0.5771,1.0000)" font-size="35.7" font-weight="400" letter-spacing="1.326">6g</text>
<text transform="translate(1217.71,356.33) skewY(0.06) scale(0.5664,1.0000)" font-size="35.7" font-weight="700" stroke="#000" stroke-width="0.41" letter-spacing="2.305">32</text>
<text transform="translate(1218.25,356.33) skewY(0.06) scale(0.5664,1.0000)" font-size="35.7" font-weight="700" stroke="#000" stroke-width="0.41" letter-spacing="2.305">32</text>
<text transform="translate(1218.80,356.33) skewY(0.06) scale(0.5664,1.0000)" font-size="35.7" font-weight="700" stroke="#000" stroke-width="0.41" letter-spacing="2.305">32</text>
<text transform="translate(1219.34,356.33) skewY(0.06) scale(0.5664,1.0000)" font-size="35.7" font-weight="700" stroke="#000" stroke-width="0.41" letter-spacing="2.305">32</text>
<text transform="translate(1243.26,356.54) skewY(0.06) scale(0.5944,1.0000)" font-size="35.7" font-weight="400">%</text>
<text transform="translate(1243.66,356.54) skewY(0.06) scale(0.5944,1.0000)" font-size="35.7" font-weight="400">%</text>
<text transform="translate(764.89,410.48) skewY(0.06) scale(0.6024,1.0000)" font-size="35.2" font-weight="400" letter-spacing="1.252">Iron</text>
<text transform="translate(765.65,410.48) skewY(0.06) scale(0.6024,1.0000)" font-size="35.2" font-weight="400" letter-spacing="1.252">Iron</text>
<text transform="translate(992.55,410.47) skewY(0.06) scale(0.5966,1.0000)" font-size="35.7" font-weight="400" letter-spacing="1.282">0.5mg</text>
<text transform="translate(993.31,410.47) skewY(0.06) scale(0.5966,1.0000)" font-size="35.7" font-weight="400" letter-spacing="1.282">0.5mg</text>
<text transform="translate(1087.68,410.48) skewY(0.06) scale(0.6276,1.0000)" font-size="35.7" font-weight="400" letter-spacing="1.219">2%</text>
<text transform="translate(1088.44,410.48) skewY(0.06) scale(0.6276,1.0000)" font-size="35.7" font-weight="400" letter-spacing="1.219">2%</text>
<path transform="translate(1131.68,410.47) scale(0.01027,-0.01743)" d="M515 0V1237L197 1010V1180L530 1409H696V0Z"/>
<path transform="translate(1132.44,410.47) scale(0.01027,-0.01743)" d="M515 0V1237L197 1010V1180L530 1409H696V0Z"/>
<text transform="translate(1144.13,410.47) skewY(0.06) scale(0.5889,1.0000)" font-size="35.7" font-weight="400" letter-spacing="1.299">.4mg</text>
<text transform="translate(1144.90,410.47) skewY(0.06) scale(0.5889,1.0000)" font-size="35.7" font-weight="400" letter-spacing="1.299">.4mg</text>
<text transform="translate(1229.93,410.48) skewY(0.06) scale(0.6027,1.0000)" font-size="35.7" font-weight="400" letter-spacing="1.269">8%</text>
<text transform="translate(1230.70,410.48) skewY(0.06) scale(0.6027,1.0000)" font-size="35.7" font-weight="400" letter-spacing="1.269">8%</text>
<text transform="translate(765.20,460.50) skewY(0.06) scale(0.5676,1.0000)" font-size="35.2" font-weight="400" letter-spacing="1.329">Potassium</text>
<text transform="translate(765.96,460.50) skewY(0.06) scale(0.5676,1.0000)" font-size="35.2" font-weight="400" letter-spacing="1.329">Potassium</text>
<path transform="translate(992.32,460.52) scale(0.01055,-0.01743)" d="M515 0V1237L197 1010V1180L530 1409H696V0Z"/>
<path transform="translate(993.09,460.52) scale(0.01055,-0.01743)" d="M515 0V1237L197 1010V1180L530 1409H696V0Z"/>
<text transform="translate(1005.11,460.52) skewY(0.06) scale(0.6055,1.0000)" font-size="35.7" font-weight="400" letter-spacing="1.263">80mg</text>
<text transform="translate(1005.87,460.52) skewY(0.06) scale(0.6055,1.0000)" font-size="35.7" font-weight="400" letter-spacing="1.263">80mg</text>
<text transform="translate(1088.36,460.53) skewY(0.06) scale(0.6140,1.0000)" font-size="35.7" font-weight="400" letter-spacing="1.246">4%</text>
<text transform="translate(1089.13,460.53) skewY(0.06) scale(0.6140,1.0000)" font-size="35.7" font-weight="400" letter-spacing="1.246">4%</text>
<text transform="translate(1131.25,460.52) skewY(0.06) scale(0.5980,1.0000)" font-size="35.7" font-weight="400" letter-spacing="1.279">530mg</text>
<text transform="translate(1132.01,460.52) skewY(0.06) scale(0.5980,1.0000)" font-size="35.7" font-weight="400" letter-spacing="1.279">530mg</text>
<path transform="translate(1218.49,460.53) scale(0.01018,-0.01743)" d="M515 0V1237L197 1010V1180L530 1409H696V0Z"/>
<path transform="translate(1219.26,460.53) scale(0.01018,-0.01743)" d="M515 0V1237L197 1010V1180L530 1409H696V0Z"/>
<text transform="translate(1230.86,460.53) skewY(0.06) scale(0.5843,1.0000)" font-size="35.7" font-weight="400" letter-spacing="1.309">0%</text>
<text transform="translate(1231.62,460.53) skewY(0.06) scale(0.5843,1.0000)" font-size="35.7" font-weight="400" letter-spacing="1.309">0%</text>
<text transform="translate(765.90,510.40) skewY(0.06) scale(0.5615,1.0000)" font-size="35.2" font-weight="400" letter-spacing="1.343">Vitamin A</text>
<text transform="translate(766.66,510.40) skewY(0.06) scale(0.5615,1.0000)" font-size="35.2" font-weight="400" letter-spacing="1.343">Vitamin A</text>
<text transform="translate(992.43,510.42) skewY(0.06) scale(0.6007,1.0000)" font-size="35.7" font-weight="400" letter-spacing="1.274">90mcg</text>
<text transform="translate(993.20,510.42) skewY(0.06) scale(0.6007,1.0000)" font-size="35.7" font-weight="400" letter-spacing="1.274">90mcg</text>
<path transform="translate(1076.76,510.43) scale(0.01037,-0.01743)" d="M515 0V1237L197 1010V1180L530 1409H696V0Z"/>
<path transform="translate(1077.52,510.43) scale(0.01037,-0.01743)" d="M515 0V1237L197 1010V1180L530 1409H696V0Z"/>
<text transform="translate(1089.33,510.43) skewY(0.06) scale(0.5948,1.0000)" font-size="35.7" font-weight="400" letter-spacing="1.286">0%</text>
<text transform="translate(1090.10,510.43) skewY(0.06) scale(0.5948,1.0000)" font-size="35.7" font-weight="400" letter-spacing="1.286">0%</text>
<text transform="translate(1131.06,510.41) skewY(0.06) scale(0.5847,1.0000)" font-size="35.7" font-weight="400" letter-spacing="1.308">280mcg</text>
<text transform="translate(1131.82,510.41) skewY(0.06) scale(0.5847,1.0000)" font-size="35.7" font-weight="400" letter-spacing="1.308">280mcg</text>
<text transform="translate(1218.06,510.43) skewY(0.06) scale(0.5909,1.0000)" font-size="35.7" font-weight="400" letter-spacing="1.295">30%</text>
<text transform="translate(1218.82,510.43) skewY(0.06) scale(0.5909,1.0000)" font-size="35.7" font-weight="400" letter-spacing="1.295">30%</text>
<text transform="translate(489.46,26.12) skewY(0.06) scale(0.5172,1.0000)" font-size="25.0" font-weight="700" stroke="#000" stroke-width="0.77" letter-spacing="2.231">Per serving</text>
<text transform="translate(490.18,26.12) skewY(0.06) scale(0.5172,1.0000)" font-size="25.0" font-weight="700" stroke="#000" stroke-width="0.77" letter-spacing="2.231">Per serving</text>
<text transform="translate(490.90,26.12) skewY(0.06) scale(0.5172,1.0000)" font-size="25.0" font-weight="700" stroke="#000" stroke-width="0.77" letter-spacing="2.231">Per serving</text>
<text transform="translate(524.57,53.79) skewY(0.06) scale(0.6854,1.0000)" font-size="25.0" font-weight="700" stroke="#000" stroke-width="0.30">%</text>
<text transform="translate(524.97,53.79) skewY(0.06) scale(0.6854,1.0000)" font-size="25.0" font-weight="700" stroke="#000" stroke-width="0.30">%</text>
<text transform="translate(543.57,53.56) skewY(0.06) scale(0.5084,1.0000)" font-size="25.0" font-weight="700" stroke="#000" stroke-width="0.77" letter-spacing="2.270">DV</text>
<text transform="translate(544.29,53.56) skewY(0.06) scale(0.5084,1.0000)" font-size="25.0" font-weight="700" stroke="#000" stroke-width="0.77" letter-spacing="2.270">DV</text>
<text transform="translate(545.01,53.56) skewY(0.06) scale(0.5084,1.0000)" font-size="25.0" font-weight="700" stroke="#000" stroke-width="0.77" letter-spacing="2.270">DV</text>
<text transform="translate(564.82,53.80) skewY(0.06) scale(0.6837,1.0000)" font-size="25.0" font-weight="700" stroke="#000" stroke-width="0.30">*</text>
<text transform="translate(565.42,53.80) skewY(0.06) scale(0.6837,1.0000)" font-size="25.0" font-weight="700" stroke="#000" stroke-width="0.30">*</text>
<text transform="translate(643.35,26.11) skewY(0.06) scale(0.5243,1.0000)" font-size="25.0" font-weight="700" stroke="#000" stroke-width="0.77" letter-spacing="2.201">Per container</text>
<text transform="translate(644.07,26.11) skewY(0.06) scale(0.5243,1.0000)" font-size="25.0" font-weight="700" stroke="#000" stroke-width="0.77" letter-spacing="2.201">Per container</text>
<text transform="translate(644.79,26.11) skewY(0.06) scale(0.5243,1.0000)" font-size="25.0" font-weight="700" stroke="#000" stroke-width="0.77" letter-spacing="2.201">Per container</text>
<text transform="translate(694.87,53.79) skewY(0.06) scale(0.6854,1.0000)" font-size="25.0" font-weight="700" stroke="#000" stroke-width="0.30">%</text>
<text transform="translate(695.27,53.79) skewY(0.06) scale(0.6854,1.0000)" font-size="25.0" font-weight="700" stroke="#000" stroke-width="0.30">%</text>
<text transform="translate(713.87,53.56) skewY(0.06) scale(0.5084,1.0000)" font-size="25.0" font-weight="700" stroke="#000" stroke-width="0.77" letter-spacing="2.270">DV</text>
<text transform="translate(714.59,53.56) skewY(0.06) scale(0.5084,1.0000)" font-size="25.0" font-weight="700" stroke="#000" stroke-width="0.77" letter-spacing="2.270">DV</text>
<text transform="translate(715.31,53.56) skewY(0.06) scale(0.5084,1.0000)" font-size="25.0" font-weight="700" stroke="#000" stroke-width="0.77" letter-spacing="2.270">DV</text>
<text transform="translate(735.12,53.80) skewY(0.06) scale(0.6837,1.0000)" font-size="25.0" font-weight="700" stroke="#000" stroke-width="0.30">*</text>
<text transform="translate(735.72,53.80) skewY(0.06) scale(0.6837,1.0000)" font-size="25.0" font-weight="700" stroke="#000" stroke-width="0.30">*</text>
<text transform="translate(1021.46,26.12) skewY(0.06) scale(0.5187,1.0000)" font-size="25.0" font-weight="700" stroke="#000" stroke-width="0.77" letter-spacing="2.225">Per serving</text>
<text transform="translate(1022.18,26.12) skewY(0.06) scale(0.5187,1.0000)" font-size="25.0" font-weight="700" stroke="#000" stroke-width="0.77" letter-spacing="2.225">Per serving</text>
<text transform="translate(1022.90,26.12) skewY(0.06) scale(0.5187,1.0000)" font-size="25.0" font-weight="700" stroke="#000" stroke-width="0.77" letter-spacing="2.225">Per serving</text>
<text transform="translate(1056.07,53.79) skewY(0.06) scale(0.6854,1.0000)" font-size="25.0" font-weight="700" stroke="#000" stroke-width="0.30">%</text>
<text transform="translate(1056.47,53.79) skewY(0.06) scale(0.6854,1.0000)" font-size="25.0" font-weight="700" stroke="#000" stroke-width="0.30">%</text>
<text transform="translate(1075.07,53.56) skewY(0.06) scale(0.5084,1.0000)" font-size="25.0" font-weight="700" stroke="#000" stroke-width="0.77" letter-spacing="2.270">DV</text>
<text transform="translate(1075.79,53.56) skewY(0.06) scale(0.5084,1.0000)" font-size="25.0" font-weight="700" stroke="#000" stroke-width="0.77" letter-spacing="2.270">DV</text>
<text transform="translate(1076.51,53.56) skewY(0.06) scale(0.5084,1.0000)" font-size="25.0" font-weight="700" stroke="#000" stroke-width="0.77" letter-spacing="2.270">DV</text>
<text transform="translate(1096.32,53.80) skewY(0.06) scale(0.6837,1.0000)" font-size="25.0" font-weight="700" stroke="#000" stroke-width="0.30">*</text>
<text transform="translate(1096.92,53.80) skewY(0.06) scale(0.6837,1.0000)" font-size="25.0" font-weight="700" stroke="#000" stroke-width="0.30">*</text>
<text transform="translate(1160.95,26.11) skewY(0.06) scale(0.5243,1.0000)" font-size="25.0" font-weight="700" stroke="#000" stroke-width="0.77" letter-spacing="2.201">Per container</text>
<text transform="translate(1161.67,26.11) skewY(0.06) scale(0.5243,1.0000)" font-size="25.0" font-weight="700" stroke="#000" stroke-width="0.77" letter-spacing="2.201">Per container</text>
<text transform="translate(1162.39,26.11) skewY(0.06) scale(0.5243,1.0000)" font-size="25.0" font-weight="700" stroke="#000" stroke-width="0.77" letter-spacing="2.201">Per container</text>
<text transform="translate(1212.07,53.79) skewY(0.06) scale(0.6854,1.0000)" font-size="25.0" font-weight="700" stroke="#000" stroke-width="0.30">%</text>
<text transform="translate(1212.47,53.79) skewY(0.06) scale(0.6854,1.0000)" font-size="25.0" font-weight="700" stroke="#000" stroke-width="0.30">%</text>
<text transform="translate(1231.07,53.56) skewY(0.06) scale(0.5084,1.0000)" font-size="25.0" font-weight="700" stroke="#000" stroke-width="0.77" letter-spacing="2.270">DV</text>
<text transform="translate(1231.79,53.56) skewY(0.06) scale(0.5084,1.0000)" font-size="25.0" font-weight="700" stroke="#000" stroke-width="0.77" letter-spacing="2.270">DV</text>
<text transform="translate(1232.51,53.56) skewY(0.06) scale(0.5084,1.0000)" font-size="25.0" font-weight="700" stroke="#000" stroke-width="0.77" letter-spacing="2.270">DV</text>
<text transform="translate(1252.32,53.80) skewY(0.06) scale(0.6837,1.0000)" font-size="25.0" font-weight="700" stroke="#000" stroke-width="0.30">*</text>
<text transform="translate(1252.92,53.80) skewY(0.06) scale(0.6837,1.0000)" font-size="25.0" font-weight="700" stroke="#000" stroke-width="0.30">*</text>
<clipPath id="tc"><rect x="10" y="17.0" width="235" height="60"/></clipPath><g clip-path="url(#tc)">
<text transform="translate(17.41,63.44) skewY(0.06) scale(0.7310,1.0000)" font-size="65.6" font-weight="700" stroke="#000" stroke-width="2.00" letter-spacing="3.283">Nutrition</text>
<text transform="translate(18.13,63.44) skewY(0.06) scale(0.7310,1.0000)" font-size="65.6" font-weight="700" stroke="#000" stroke-width="2.00" letter-spacing="3.283">Nutrition</text>
<text transform="translate(18.85,63.44) skewY(0.06) scale(0.7310,1.0000)" font-size="65.6" font-weight="700" stroke="#000" stroke-width="2.00" letter-spacing="3.283">Nutrition</text>
<text transform="translate(19.57,63.44) skewY(0.06) scale(0.7310,1.0000)" font-size="65.6" font-weight="700" stroke="#000" stroke-width="2.00" letter-spacing="3.283">Nutrition</text>
<text transform="translate(20.29,63.44) skewY(0.06) scale(0.7310,1.0000)" font-size="65.6" font-weight="700" stroke="#000" stroke-width="2.00" letter-spacing="3.283">Nutrition</text>
<text transform="translate(21.01,63.44) skewY(0.06) scale(0.7310,1.0000)" font-size="65.6" font-weight="700" stroke="#000" stroke-width="2.00" letter-spacing="3.283">Nutrition</text>
</g>
<text transform="translate(17.43,120.58) skewY(0.06) scale(0.7269,1.0000)" font-size="65.6" font-weight="700" stroke="#000" stroke-width="2.00" letter-spacing="3.302">Facts</text>
<text transform="translate(18.15,120.58) skewY(0.06) scale(0.7269,1.0000)" font-size="65.6" font-weight="700" stroke="#000" stroke-width="2.00" letter-spacing="3.302">Facts</text>
<text transform="translate(18.87,120.58) skewY(0.06) scale(0.7269,1.0000)" font-size="65.6" font-weight="700" stroke="#000" stroke-width="2.00" letter-spacing="3.302">Facts</text>
<text transform="translate(19.59,120.58) skewY(0.06) scale(0.7269,1.0000)" font-size="65.6" font-weight="700" stroke="#000" stroke-width="2.00" letter-spacing="3.302">Facts</text>
<text transform="translate(20.31,120.58) skewY(0.06) scale(0.7269,1.0000)" font-size="65.6" font-weight="700" stroke="#000" stroke-width="2.00" letter-spacing="3.302">Facts</text>
<text transform="translate(21.03,120.58) skewY(0.06) scale(0.7269,1.0000)" font-size="65.6" font-weight="700" stroke="#000" stroke-width="2.00" letter-spacing="3.302">Facts</text>
<text transform="translate(16.54,168.63) skewY(0.06) scale(0.4695,1.0000)" font-size="40.5" font-weight="400" letter-spacing="1.849" word-spacing="-2.025">3 servings per container</text>
<text transform="translate(16.97,168.63) skewY(0.06) scale(0.4695,1.0000)" font-size="40.5" font-weight="400" letter-spacing="1.849" word-spacing="-2.025">3 servings per container</text>
<text transform="translate(17.41,168.63) skewY(0.06) scale(0.4695,1.0000)" font-size="40.5" font-weight="400" letter-spacing="1.849" word-spacing="-2.025">3 servings per container</text>
<text transform="translate(16.46,209.08) skewY(0.06) scale(0.5079,1.0000)" font-size="35.4" font-weight="700" stroke="#000" stroke-width="0.40" letter-spacing="2.549">Serving size</text>
<text transform="translate(17.00,209.08) skewY(0.06) scale(0.5079,1.0000)" font-size="35.4" font-weight="700" stroke="#000" stroke-width="0.40" letter-spacing="2.549">Serving size</text>
<text transform="translate(17.54,209.08) skewY(0.06) scale(0.5079,1.0000)" font-size="35.4" font-weight="700" stroke="#000" stroke-width="0.40" letter-spacing="2.549">Serving size</text>
<text transform="translate(18.08,209.08) skewY(0.06) scale(0.5079,1.0000)" font-size="35.4" font-weight="700" stroke="#000" stroke-width="0.40" letter-spacing="2.549">Serving size</text>
<text transform="translate(15.83,250.84) skewY(0.06) scale(0.6404,1.0000)" font-size="35.6" font-weight="700" stroke="#000" stroke-width="0.41" letter-spacing="2.033">2/</text>
<text transform="translate(16.37,250.84) skewY(0.06) scale(0.6404,1.0000)" font-size="35.6" font-weight="700" stroke="#000" stroke-width="0.41" letter-spacing="2.033">2/</text>
<text transform="translate(16.92,250.84) skewY(0.06) scale(0.6404,1.0000)" font-size="35.6" font-weight="700" stroke="#000" stroke-width="0.41" letter-spacing="2.033">2/</text>
<text transform="translate(17.46,250.84) skewY(0.06) scale(0.6404,1.0000)" font-size="35.6" font-weight="700" stroke="#000" stroke-width="0.41" letter-spacing="2.033">2/</text>
<text transform="translate(39.92,250.84) skewY(0.06) scale(0.5476,1.0000)" font-size="35.6" font-weight="700" stroke="#000" stroke-width="0.41">3</text>
<text transform="translate(40.47,250.84) skewY(0.06) scale(0.5476,1.0000)" font-size="35.6" font-weight="700" stroke="#000" stroke-width="0.41">3</text>
<text transform="translate(41.01,250.84) skewY(0.06) scale(0.5476,1.0000)" font-size="35.6" font-weight="700" stroke="#000" stroke-width="0.41">3</text>
<text transform="translate(41.55,250.84) skewY(0.06) scale(0.5476,1.0000)" font-size="35.6" font-weight="700" stroke="#000" stroke-width="0.41">3</text>
<text transform="translate(57.87,250.83) skewY(0.06) scale(0.5197,1.0000)" font-size="35.6" font-weight="700" stroke="#000" stroke-width="0.41" letter-spacing="2.505">cup</text>
<text transform="translate(58.41,250.83) skewY(0.06) scale(0.5197,1.0000)" font-size="35.6" font-weight="700" stroke="#000" stroke-width="0.41" letter-spacing="2.505">cup</text>
<text transform="translate(58.95,250.83) skewY(0.06) scale(0.5197,1.0000)" font-size="35.6" font-weight="700" stroke="#000" stroke-width="0.41" letter-spacing="2.505">cup</text>
<text transform="translate(59.49,250.83) skewY(0.06) scale(0.5197,1.0000)" font-size="35.6" font-weight="700" stroke="#000" stroke-width="0.41" letter-spacing="2.505">cup</text>
<text transform="translate(100.78,250.82) skewY(0.06) scale(0.5195,1.0000)" font-size="35.6" font-weight="700" stroke="#000" stroke-width="0.41" letter-spacing="2.506">(94g)</text>
<text transform="translate(101.32,250.82) skewY(0.06) scale(0.5195,1.0000)" font-size="35.6" font-weight="700" stroke="#000" stroke-width="0.41" letter-spacing="2.506">(94g)</text>
<text transform="translate(101.87,250.82) skewY(0.06) scale(0.5195,1.0000)" font-size="35.6" font-weight="700" stroke="#000" stroke-width="0.41" letter-spacing="2.506">(94g)</text>
<text transform="translate(102.41,250.82) skewY(0.06) scale(0.5195,1.0000)" font-size="35.6" font-weight="700" stroke="#000" stroke-width="0.41" letter-spacing="2.506">(94g)</text>
<text transform="translate(16.63,306.94) skewY(0.06) scale(0.5697,1.0000)" font-size="44.5" font-weight="700" stroke="#000" stroke-width="0.51" letter-spacing="2.857">Calories</text>
<text transform="translate(17.31,306.94) skewY(0.06) scale(0.5697,1.0000)" font-size="44.5" font-weight="700" stroke="#000" stroke-width="0.51" letter-spacing="2.857">Calories</text>
<text transform="translate(17.99,306.94) skewY(0.06) scale(0.5697,1.0000)" font-size="44.5" font-weight="700" stroke="#000" stroke-width="0.51" letter-spacing="2.857">Calories</text>
<text transform="translate(18.67,306.94) skewY(0.06) scale(0.5697,1.0000)" font-size="44.5" font-weight="700" stroke="#000" stroke-width="0.51" letter-spacing="2.857">Calories</text>
<path transform="translate(14.70,382.69) scale(0.03003,-0.04453)" d="M478 0V1170L140 959V1180L493 1409H759V0Z" stroke="#000" stroke-width="1.50" vector-effect="non-scaling-stroke"/>
<path transform="translate(15.50,382.69) scale(0.03003,-0.04453)" d="M478 0V1170L140 959V1180L493 1409H759V0Z" stroke="#000" stroke-width="1.50" vector-effect="non-scaling-stroke"/>
<text transform="translate(48.56,382.68) skewY(0.06) scale(0.6713,1.0000)" font-size="91.2" font-weight="700" stroke="#000" stroke-width="1.50">6</text>
<text transform="translate(48.96,382.68) skewY(0.06) scale(0.6713,1.0000)" font-size="91.2" font-weight="700" stroke="#000" stroke-width="1.50">6</text>
<text transform="translate(81.33,382.68) skewY(0.06) scale(0.6805,1.0000)" font-size="91.2" font-weight="700" stroke="#000" stroke-width="1.50">0</text>
<text transform="translate(81.73,382.68) skewY(0.06) scale(0.6805,1.0000)" font-size="91.2" font-weight="700" stroke="#000" stroke-width="1.50">0</text>
<text transform="translate(136.62,382.68) skewY(0.06) scale(0.6124,1.0000)" font-size="91.2" font-weight="700" stroke="#000" stroke-width="1.50">4</text>
<text transform="translate(137.02,382.68) skewY(0.06) scale(0.6124,1.0000)" font-size="91.2" font-weight="700" stroke="#000" stroke-width="1.50">4</text>
<text transform="translate(168.16,382.68) skewY(0.06) scale(0.6713,1.0000)" font-size="91.2" font-weight="700" stroke="#000" stroke-width="1.50">9</text>
<text transform="translate(168.56,382.68) skewY(0.06) scale(0.6713,1.0000)" font-size="91.2" font-weight="700" stroke="#000" stroke-width="1.50">9</text>
<text transform="translate(201.27,382.68) skewY(0.06) scale(0.6671,1.0000)" font-size="91.2" font-weight="700" stroke="#000" stroke-width="1.50">0</text>
<text transform="translate(201.67,382.68) skewY(0.06) scale(0.6671,1.0000)" font-size="91.2" font-weight="700" stroke="#000" stroke-width="1.50">0</text>
<text transform="translate(16.20,407.84) skewY(0.06) scale(0.4662,1.0000)" font-size="29" font-weight="700" stroke="#000" stroke-width="0.33" letter-spacing="2.275">per serving</text>
<text transform="translate(16.86,407.84) skewY(0.06) scale(0.4662,1.0000)" font-size="29" font-weight="700" stroke="#000" stroke-width="0.33" letter-spacing="2.275">per serving</text>
<text transform="translate(17.52,407.84) skewY(0.06) scale(0.4662,1.0000)" font-size="29" font-weight="700" stroke="#000" stroke-width="0.33" letter-spacing="2.275">per serving</text>
<text transform="translate(136.39,407.83) skewY(0.06) scale(0.4724,1.0000)" font-size="29" font-weight="700" stroke="#000" stroke-width="0.33" letter-spacing="2.245">per container</text>
<text transform="translate(137.05,407.83) skewY(0.06) scale(0.4724,1.0000)" font-size="29" font-weight="700" stroke="#000" stroke-width="0.33" letter-spacing="2.245">per container</text>
<text transform="translate(137.71,407.83) skewY(0.06) scale(0.4724,1.0000)" font-size="29" font-weight="700" stroke="#000" stroke-width="0.33" letter-spacing="2.245">per container</text>
<text transform="translate(1269.60,43.11) skewY(0.06) scale(0.4883,1.0000)" font-size="27.1" font-weight="400" letter-spacing="1.843" word-spacing="-2.439">*The % Daily</text>
<text transform="translate(1270.05,43.11) skewY(0.06) scale(0.4883,1.0000)" font-size="27.1" font-weight="400" letter-spacing="1.843" word-spacing="-2.439">*The % Daily</text>
<text transform="translate(1270.50,43.11) skewY(0.06) scale(0.4883,1.0000)" font-size="27.1" font-weight="400" letter-spacing="1.843" word-spacing="-2.439">*The % Daily</text>
<text transform="translate(1279.74,70.15) skewY(0.06) scale(0.4708,1.0000)" font-size="27.1" font-weight="400" letter-spacing="1.912" word-spacing="-2.439">Value (DV) tells</text>
<text transform="translate(1280.19,70.15) skewY(0.06) scale(0.4708,1.0000)" font-size="27.1" font-weight="400" letter-spacing="1.912" word-spacing="-2.439">Value (DV) tells</text>
<text transform="translate(1280.64,70.15) skewY(0.06) scale(0.4708,1.0000)" font-size="27.1" font-weight="400" letter-spacing="1.912" word-spacing="-2.439">Value (DV) tells</text>
<text transform="translate(1279.33,97.19) skewY(0.06) scale(0.5073,1.0000)" font-size="27.1" font-weight="400" letter-spacing="1.774" word-spacing="-2.439">you how much a</text>
<text transform="translate(1279.78,97.19) skewY(0.06) scale(0.5073,1.0000)" font-size="27.1" font-weight="400" letter-spacing="1.774" word-spacing="-2.439">you how much a</text>
<text transform="translate(1280.23,97.19) skewY(0.06) scale(0.5073,1.0000)" font-size="27.1" font-weight="400" letter-spacing="1.774" word-spacing="-2.439">you how much a</text>
<text transform="translate(1279.36,124.26) skewY(0.06) scale(0.4764,1.0000)" font-size="27.1" font-weight="400" letter-spacing="1.889" word-spacing="-2.439">nutrient in a</text>
<text transform="translate(1279.81,124.26) skewY(0.06) scale(0.4764,1.0000)" font-size="27.1" font-weight="400" letter-spacing="1.889" word-spacing="-2.439">nutrient in a</text>
<text transform="translate(1280.26,124.26) skewY(0.06) scale(0.4764,1.0000)" font-size="27.1" font-weight="400" letter-spacing="1.889" word-spacing="-2.439">nutrient in a</text>
<text transform="translate(1279.40,151.30) skewY(0.06) scale(0.4926,1.0000)" font-size="27.1" font-weight="400" letter-spacing="1.827" word-spacing="-2.439">serving of food</text>
<text transform="translate(1279.85,151.30) skewY(0.06) scale(0.4926,1.0000)" font-size="27.1" font-weight="400" letter-spacing="1.827" word-spacing="-2.439">serving of food</text>
<text transform="translate(1280.30,151.30) skewY(0.06) scale(0.4926,1.0000)" font-size="27.1" font-weight="400" letter-spacing="1.827" word-spacing="-2.439">serving of food</text>
<text transform="translate(1279.88,178.35) skewY(0.06) scale(0.4764,1.0000)" font-size="27.1" font-weight="400" letter-spacing="1.889" word-spacing="-2.439">contributes to a</text>
<text transform="translate(1280.33,178.35) skewY(0.06) scale(0.4764,1.0000)" font-size="27.1" font-weight="400" letter-spacing="1.889" word-spacing="-2.439">contributes to a</text>
<text transform="translate(1280.78,178.35) skewY(0.06) scale(0.4764,1.0000)" font-size="27.1" font-weight="400" letter-spacing="1.889" word-spacing="-2.439">contributes to a</text>
<text transform="translate(1279.69,205.40) skewY(0.06) scale(0.4674,1.0000)" font-size="27.1" font-weight="400" letter-spacing="1.926" word-spacing="-2.439">daily diet. 2,000</text>
<text transform="translate(1280.14,205.40) skewY(0.06) scale(0.4674,1.0000)" font-size="27.1" font-weight="400" letter-spacing="1.926" word-spacing="-2.439">daily diet. 2,000</text>
<text transform="translate(1280.59,205.40) skewY(0.06) scale(0.4674,1.0000)" font-size="27.1" font-weight="400" letter-spacing="1.926" word-spacing="-2.439">daily diet. 2,000</text>
<text transform="translate(1279.69,232.45) skewY(0.06) scale(0.4682,1.0000)" font-size="27.1" font-weight="400" letter-spacing="1.922" word-spacing="-2.439">calories a day is</text>
<text transform="translate(1280.14,232.45) skewY(0.06) scale(0.4682,1.0000)" font-size="27.1" font-weight="400" letter-spacing="1.922" word-spacing="-2.439">calories a day is</text>
<text transform="translate(1280.59,232.45) skewY(0.06) scale(0.4682,1.0000)" font-size="27.1" font-weight="400" letter-spacing="1.922" word-spacing="-2.439">calories a day is</text>
<text transform="translate(1279.36,259.50) skewY(0.06) scale(0.4749,1.0000)" font-size="27.1" font-weight="400" letter-spacing="1.895" word-spacing="-2.439">used for general</text>
<text transform="translate(1279.81,259.50) skewY(0.06) scale(0.4749,1.0000)" font-size="27.1" font-weight="400" letter-spacing="1.895" word-spacing="-2.439">used for general</text>
<text transform="translate(1280.26,259.50) skewY(0.06) scale(0.4749,1.0000)" font-size="27.1" font-weight="400" letter-spacing="1.895" word-spacing="-2.439">used for general</text>
<text transform="translate(1279.37,286.55) skewY(0.06) scale(0.4731,1.0000)" font-size="27.1" font-weight="400" letter-spacing="1.902" word-spacing="-2.439">nutrition advice.</text>
<text transform="translate(1279.82,286.55) skewY(0.06) scale(0.4731,1.0000)" font-size="27.1" font-weight="400" letter-spacing="1.902" word-spacing="-2.439">nutrition advice.</text>
<text transform="translate(1280.27,286.55) skewY(0.06) scale(0.4731,1.0000)" font-size="27.1" font-weight="400" letter-spacing="1.902" word-spacing="-2.439">nutrition advice.</text>
</g>
</svg>
</body></html>
